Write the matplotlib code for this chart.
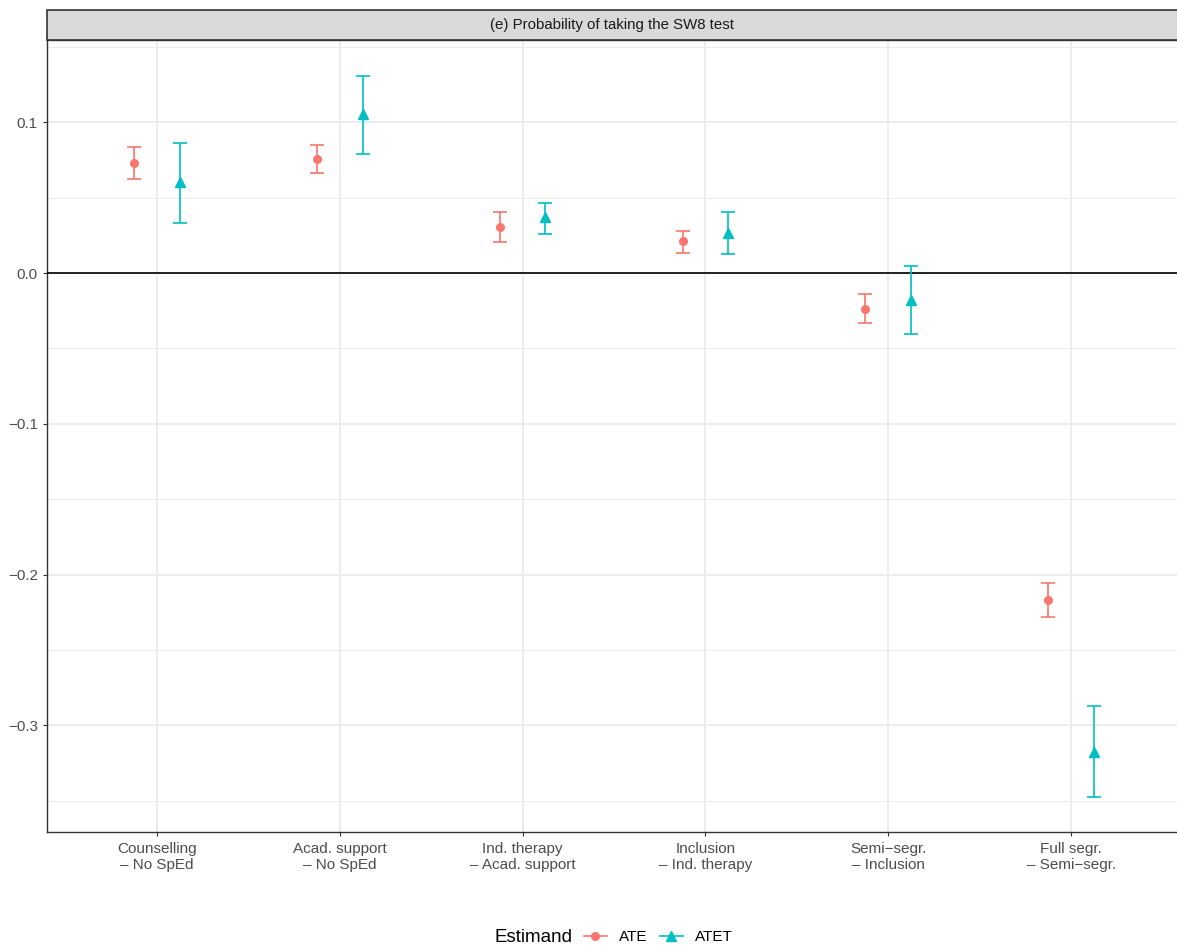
import matplotlib

matplotlib.use("Agg")
import matplotlib.pyplot as plt
from matplotlib.lines import Line2D
from matplotlib.patches import Rectangle

# ---- data ------------------------------------------------------------------
categories = [
    "Counselling\n– No SpEd",
    "Acad. support\n– No SpEd",
    "Ind. therapy\n– Acad. support",
    "Inclusion\n– Ind. therapy",
    "Semi−segr.\n– Inclusion",
    "Full segr.\n– Semi−segr.",
]
ate = [0.0731, 0.0754, 0.0305, 0.0212, -0.0237, -0.2169]
ate_lo = [0.0622, 0.0661, 0.0206, 0.0133, -0.0330, -0.2282]
ate_hi = [0.0838, 0.0849, 0.0405, 0.0279, -0.0139, -0.2058]
atet = [0.0606, 0.1053, 0.0371, 0.0265, -0.0179, -0.3175]
atet_lo = [0.0334, 0.0787, 0.0259, 0.0126, -0.0407, -0.3478]
atet_hi = [0.0860, 0.1310, 0.0464, 0.0405, 0.0049, -0.2872]
y_ticks = [0.1, 0.0, -0.1, -0.2, -0.3]
y_tick_labels = ["0.1", "0.0", "−0.1", "−0.2", "−0.3"]
y_minor = [0.15, 0.05, -0.05, -0.15, -0.25, -0.35]
title = "(e) Probability of taking the SW8 test"

RED = "#F8766D"
TEAL = "#00BFC4"
GRID = "#EBEBEB"
TXT = "#4D4D4D"
FONT = ["Liberation Sans", "DejaVu Sans"]
plt.rcParams["font.family"] = FONT

fig = plt.figure(figsize=(11.77, 9.46), dpi=100)
ax = fig.add_axes([47 / 1177, 114 / 946, 1134 / 1177, 792 / 946])

dodge = 0.125
x = list(range(len(categories)))
series = [
    (ate, ate_lo, ate_hi, RED, "o", 5.5, -dodge),
    (atet, atet_lo, atet_hi, TEAL, "^", 6.5, dodge),
]
for vals, lo, hi, color, marker, ms, off in series:
    xs = [xi + off for xi in x]
    yerr = [[v - l for v, l in zip(vals, lo)], [h - v for v, h in zip(vals, hi)]]
    ax.errorbar(xs, vals, yerr=yerr, fmt=marker, color=color, markersize=ms,
                elinewidth=1.2, capsize=5, capthick=1.2, zorder=4)

ax.axhline(0, color="black", linewidth=1.2, zorder=3)

ax.set_xlim(-0.6, 5.6)
ax.set_ylim(-0.3708, 0.1546)
ax.set_xticks(x)
ax.set_xticklabels(categories, fontsize=11, color=TXT, linespacing=1.2)
ax.set_yticks(y_ticks)
ax.set_yticklabels(y_tick_labels, fontsize=11, color=TXT)
ax.set_yticks(y_minor, minor=True)
ax.tick_params(axis="both", which="major", length=3, width=0.8, color="#333333")
ax.tick_params(axis="x", which="major", pad=4)
ax.tick_params(axis="y", which="minor", length=0)
ax.grid(which="major", color=GRID, linewidth=1.3)
ax.grid(which="minor", axis="y", color=GRID, linewidth=0.7)
ax.set_axisbelow(True)
for spine in ax.spines.values():
    spine.set_color("#333333")
    spine.set_linewidth(1.0)

# facet strip
strip = Rectangle((47 / 1177, 906 / 946), 1135 / 1177, 30 / 946,
                  transform=fig.transFigure, facecolor="#D9D9D9",
                  edgecolor="#333333", linewidth=1.2, clip_on=False)
fig.add_artist(strip)
fig.text(0.5 * (47 + 1177) / 1177, 921 / 946, title, ha="center", va="center",
         fontsize=10.8, color="#1A1A1A")

# legend at bottom, title on the left
fig.text(572 / 1177, 9 / 946, "Estimand", ha="right", va="center",
         fontsize=13.5, color="black")
handles = [
    Line2D([], [], color=RED, marker="o", markersize=5.5, linewidth=1.2),
    Line2D([], [], color=TEAL, marker="^", markersize=6.5, linewidth=1.2),
]
fig.legend(handles, ["ATE", "ATET"], loc="center left",
           bbox_to_anchor=(584 / 1177, 9 / 946), ncol=2, frameon=False,
           fontsize=11, handlelength=1.5, handletextpad=0.8, columnspacing=0.8,
           borderaxespad=0, borderpad=0)

fig.savefig("out.png", dpi=100, facecolor="white")
